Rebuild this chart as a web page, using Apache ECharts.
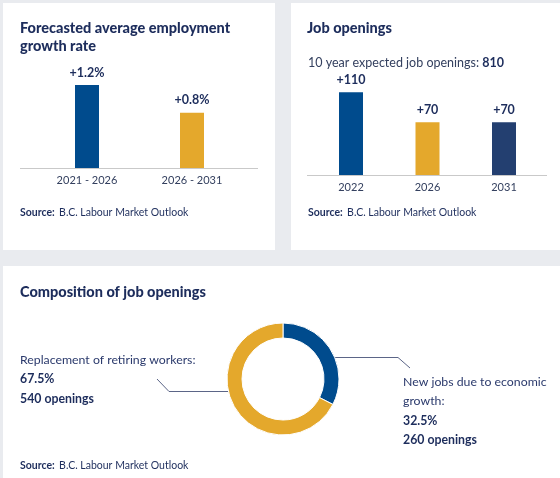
<!DOCTYPE html>
<html>
<head>
<meta charset="utf-8">
<script src="https://cdn.jsdelivr.net/npm/echarts@6/dist/echarts.min.js"></script>
<style>html,body{margin:0;padding:0;background:#e9ebef;}#c{width:560px;height:478px;}</style>
</head>
<body>
<div id="c"></div>
<script>
// ---- data ----
const growthCategories = ['2021 - 2026', '2026 - 2031'];
const growthValues = [1.2, 0.8];
const openingYears = ['2022', '2026', '2031'];
const openingValues = [110, 70, 70];
const totalExpectedOpenings = 810;
const compositionNames = ['New jobs due to economic growth:', 'Replacement of retiring workers:'];
const compositionValues = [260, 540];
const sourceText = 'B.C. Labour Market Outlook';

// ---- styles ----
const FONT = 'Lato';
const NAVY = '#1d2d5c';
const TEXT = '#34405f';
const BLUE = '#004b8d';
const GOLD = '#e4a82c';
const DARK = '#233f70';
const growthColors = [BLUE, GOLD];
const openingColors = [BLUE, GOLD, DARK];
const compColors = [BLUE, GOLD];

const chart = echarts.init(document.getElementById('c'));
const total = compositionValues.reduce((a, b) => a + b, 0);

function srcTitle(left, top) {
  return {
    left: left, top: top, padding: 0,
    text: '{b|Source:} {n|' + sourceText + '}',
    textStyle: {
      rich: {
        b: { fontFamily: FONT, fontWeight: 'bold', fontSize: 10.5, color: NAVY },
        n: { fontFamily: FONT, fontWeight: 'normal', fontSize: 10.5, color: NAVY }
      }
    }
  };
}

const option = {
  backgroundColor: '#e9ebef',
  animation: false,
  textStyle: { fontFamily: FONT },
  graphic: [
    { type: 'rect', z: -10, shape: { x: 3, y: 3, width: 272, height: 247 }, style: { fill: '#fff' } },
    { type: 'rect', z: -10, shape: { x: 291, y: 3, width: 269, height: 247 }, style: { fill: '#fff' } },
    { type: 'rect', z: -10, shape: { x: 3, y: 266, width: 557, height: 212 }, style: { fill: '#fff' } },
    { type: 'line', z: -5, shape: { x1: 20, y1: 168.5, x2: 258, y2: 168.5 }, style: { stroke: '#c9c9c9', lineWidth: 1 } },
    { type: 'line', z: -5, shape: { x1: 307, y1: 175.5, x2: 547, y2: 175.5 }, style: { stroke: '#c9c9c9', lineWidth: 1 } },
    { type: 'polyline', shape: { points: [[157, 379], [169, 391.5], [228, 391.5]] }, style: { stroke: '#5b6587', lineWidth: 1, fill: null } },
    { type: 'polyline', shape: { points: [[335, 357.5], [398, 357.5], [410, 368]] }, style: { stroke: '#5b6587', lineWidth: 1, fill: null } }
  ],
  title: [
    {
      left: 20, top: 19, padding: 0,
      text: 'Forecasted average employment\ngrowth rate',
      textStyle: { fontFamily: FONT, fontWeight: 900, fontSize: 14.5, color: NAVY, lineHeight: 18 }
    },
    {
      left: 307, top: 20.5, padding: 0,
      text: 'Job openings',
      textStyle: { fontFamily: FONT, fontWeight: 900, fontSize: 14.5, color: NAVY }
    },
    {
      left: 308, top: 56.5, padding: 0,
      text: '{n|10 year expected job openings: }{b|' + totalExpectedOpenings + '}',
      textStyle: {
        rich: {
          n: { fontFamily: FONT, fontWeight: 'normal', fontSize: 12.5, color: TEXT },
          b: { fontFamily: FONT, fontSize: 12.5, fontWeight: 'bold', color: NAVY }
        }
      }
    },
    {
      left: 20, top: 284.5, padding: 0,
      text: 'Composition of job openings',
      textStyle: { fontFamily: FONT, fontWeight: 900, fontSize: 14.5, color: NAVY }
    },
    srcTitle(20, 203.5),
    srcTitle(308, 203.5),
    srcTitle(20, 456.5)
  ],
  grid: [
    { left: 34.5, width: 210, top: 64.25, height: 103.75 },
    { left: 312.75, width: 229.5, top: 62, height: 113 }
  ],
  xAxis: [
    {
      gridIndex: 0, type: 'category', data: growthCategories,
      axisLine: { show: false }, axisTick: { show: false },
      axisLabel: { margin: 7, fontFamily: FONT, fontSize: 11, color: TEXT }
    },
    {
      gridIndex: 1, type: 'category', data: openingYears,
      axisLine: { show: false }, axisTick: { show: false },
      axisLabel: { margin: 7, fontFamily: FONT, fontSize: 11, color: TEXT }
    }
  ],
  yAxis: [
    { gridIndex: 0, type: 'value', min: 0, max: 1.5, show: false, splitLine: { show: false } },
    { gridIndex: 1, type: 'value', min: 0, max: 150, show: false, splitLine: { show: false } }
  ],
  series: [
    {
      type: 'bar', xAxisIndex: 0, yAxisIndex: 0, barWidth: 24,
      data: growthValues.map((v, i) => ({ value: v, itemStyle: { color: growthColors[i] } })),
      label: {
        show: true, position: 'top', distance: 6,
        formatter: p => '+' + p.value.toFixed(1) + '%',
        fontFamily: FONT, fontWeight: 'bold', fontSize: 12.5, color: NAVY
      }
    },
    {
      type: 'bar', xAxisIndex: 1, yAxisIndex: 1, barWidth: 24,
      data: openingValues.map((v, i) => ({ value: v, itemStyle: { color: openingColors[i] } })),
      label: {
        show: true, position: 'top', distance: 6,
        formatter: p => '+' + p.value,
        fontFamily: FONT, fontWeight: 'bold', fontSize: 12.5, color: NAVY
      }
    },
    {
      type: 'pie',
      center: [283, 379],
      radius: [41, 56],
      startAngle: 90,
      clockwise: true,
      silent: true,
      itemStyle: { borderColor: '#fff', borderWidth: 1 },
      data: compositionValues.map((v, i) => ({ name: compositionNames[i], value: v, itemStyle: { color: compColors[i] } })),
      labelLine: { show: false },
      label: {
        show: true, position: 'outside', overflow: 'none', width: 220,
        formatter: p => {
          const pct = (p.value / total * 100).toFixed(1) + '%';
          const nameLines = p.dataIndex === 0 ? ['New jobs due to economic', 'growth:'] : [p.name];
          return nameLines.map(s => '{n|' + s + '}').join('\n') + '\n{b|' + pct + '}\n{b|' + p.value + ' openings}';
        },
        rich: {
          n: { fontFamily: FONT, fontWeight: 'normal', fontSize: 12.3, color: '#2b3a6c', lineHeight: 19.5 },
          b: { fontFamily: FONT, fontSize: 12.3, fontWeight: 'bold', color: NAVY, lineHeight: 19.5 }
        }
      },
      labelLayout: p => p.dataIndex === 0
        ? { x: 403, y: 372, align: 'left', verticalAlign: 'top' }
        : { x: 20, y: 350, align: 'left', verticalAlign: 'top' }
    }
  ]
};
chart.setOption(option);
</script>
</body>
</html>
